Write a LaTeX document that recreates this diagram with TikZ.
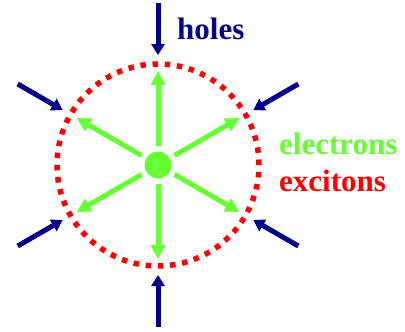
\documentclass[tikz,border=0pt]{standalone}
\usepackage{fontspec}
\setmainfont{Liberation Serif}
\usetikzlibrary{arrows.meta}
\definecolor{holeblue}{RGB}{0,0,140}
\definecolor{elecgreen}{RGB}{102,255,51}
\definecolor{excred}{RGB}{255,0,0}
\tikzset{
  holearrow/.style={draw=holeblue, line width=5pt, -{Triangle[length=11pt,width=13pt]}},
  elecarrow/.style={draw=elecgreen, line width=5pt, -{Triangle[length=14pt,width=14pt]}},
  lbl/.style={font=\fontsize{31}{31}\selectfont\bfseries, anchor=base west, inner sep=0pt},
}
\begin{document}
\begin{tikzpicture}[x=1pt,y=-1pt]
\useasboundingbox (0,0) rectangle (405,332);
\node[circle, fill=elecgreen, minimum size=27pt, inner sep=0pt] (c) at (158,165) {};
% dotted exciton ring
\draw[excred, line width=5.5pt, dash pattern=on 5.5pt off 6.7pt] (c) circle[radius=101pt];
% green electron arrows
\foreach \a [count=\i] in {90,30,-30,-90,-150,150}{
  \coordinate (es\i) at ([shift={(\a:19pt)}]c.center);
  \coordinate (ee\i) at ([shift={(\a:94pt)}]c.center);
  \draw[elecarrow] (es\i) -- (ee\i);
}
% blue hole arrows
\foreach \a [count=\i] in {90,30,-30,-90,-150,150}{
  \coordinate (hs\i) at ([shift={(\a:162pt)}]c.center);
  \coordinate (he\i) at ([shift={(\a:110pt)}]c.center);
  \draw[holearrow] (hs\i) -- (he\i);
}
\node[lbl, text=holeblue] (holes) at (177,39) {holes};
\node[lbl, text=elecgreen] (electrons) at (279,154) {electrons};
\node[lbl, text=excred] (excitons) at (279,191.5) {excitons};
\end{tikzpicture}
\end{document}
